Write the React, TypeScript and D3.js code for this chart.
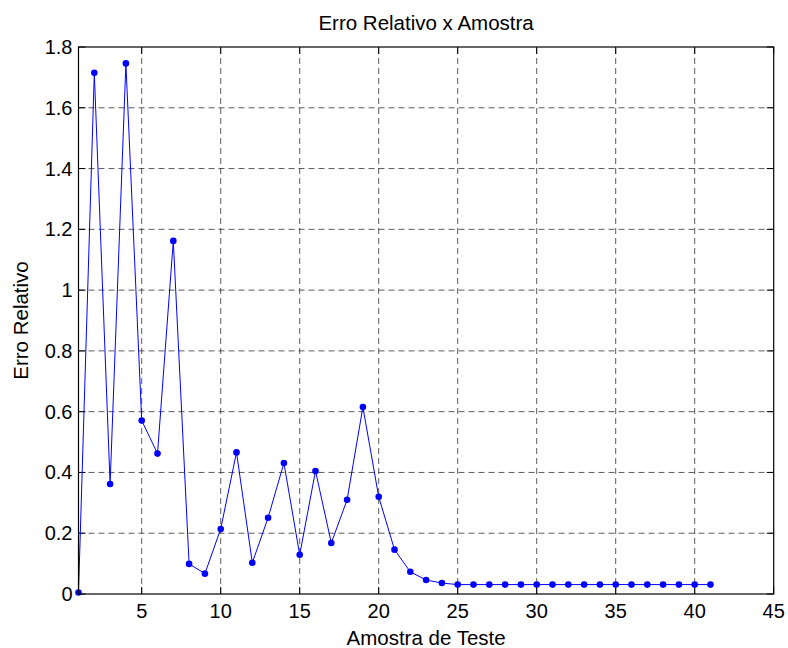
import React from "react";
import * as d3 from "d3";

// Relative error for each test sample
const samples: number[] = Array.from({ length: 41 }, (_, i) => i + 1);
const relError: number[] = [
  0.005, 1.715, 0.362, 1.746, 0.571, 0.462, 1.162, 0.099, 0.067, 0.214,
  0.466, 0.103, 0.251, 0.431, 0.129, 0.405, 0.168, 0.31, 0.615, 0.32,
  0.146, 0.073, 0.046, 0.036, 0.031, 0.031, 0.031, 0.031, 0.031, 0.031,
  0.031, 0.031, 0.031, 0.031, 0.031, 0.031, 0.031, 0.031, 0.031, 0.031,
  0.031,
];
const xTicks: number[] = [5, 10, 15, 20, 25, 30, 35, 40, 45];
const yTicks: number[] = [0, 0.2, 0.4, 0.6, 0.8, 1, 1.2, 1.4, 1.6, 1.8];

const W = 788;
const H = 648;
const m = { left: 78.5, right: 788 - 773.7, top: 47, bottom: 648 - 594 };

export default function App() {
  const x = d3.scaleLinear().domain([1, 45]).range([m.left, W - m.right]);
  const y = d3.scaleLinear().domain([0, 1.8]).range([H - m.bottom, m.top]);
  const line = d3
    .line<number>()
    .x((_, i) => x(samples[i]))
    .y((d) => y(d));
  const font = "'Liberation Sans', Arial, Helvetica, sans-serif";
  const x0 = x.range()[0];
  const x1 = x.range()[1];
  const y0 = y.range()[0];
  const y1 = y.range()[1];
  const tl = 7;
  const tickFs = 20;
  const labelFs = 20.5;

  return (
    <svg
      width={W}
      height={H}
      style={{ position: "absolute", left: 0, top: 0, background: "#fff" }}
      fontFamily={font}
    >
      <rect x={0} y={0} width={W} height={H} fill="#fff" />
      {/* grid */}
      <g stroke="#000" strokeWidth={0.8} strokeDasharray="6,4" opacity={0.8}>
        {xTicks
          .filter((t) => t < 45)
          .map((t) => (
            <line key={"gx" + t} x1={x(t)} x2={x(t)} y1={y0} y2={y1} />
          ))}
        {yTicks
          .filter((t) => t > 0 && t < 1.8)
          .map((t) => (
            <line key={"gy" + t} x1={x0} x2={x1} y1={y(t)} y2={y(t)} />
          ))}
      </g>
      {/* tick marks */}
      <g stroke="#000" strokeWidth={1}>
        {xTicks.map((t) => (
          <g key={"tx" + t}>
            <line x1={x(t)} x2={x(t)} y1={y0} y2={y0 - tl} />
            <line x1={x(t)} x2={x(t)} y1={y1} y2={y1 + tl} />
          </g>
        ))}
        {yTicks.map((t) => (
          <g key={"ty" + t}>
            <line x1={x0} x2={x0 + tl} y1={y(t)} y2={y(t)} />
            <line x1={x1} x2={x1 - tl} y1={y(t)} y2={y(t)} />
          </g>
        ))}
      </g>
      {/* data */}
      <path d={line(relError) ?? ""} fill="none" stroke="#0000ff" strokeWidth={1} />
      <g fill="#0000ff">
        {relError.map((v, i) => (
          <circle key={i} cx={x(samples[i])} cy={y(v)} r={3.3} />
        ))}
      </g>
      {/* frame */}
      <rect
        x={x0}
        y={y1}
        width={x1 - x0}
        height={y0 - y1}
        fill="none"
        stroke="#000"
        strokeWidth={1.2}
      />
      {/* tick labels */}
      <g fontSize={tickFs} fill="#000">
        {xTicks.map((t) => (
          <text key={"lx" + t} x={x(t)} y={y0 + 24} textAnchor="middle">
            {t}
          </text>
        ))}
        {yTicks.map((t) => (
          <text key={"ly" + t} x={x0 - 6} y={y(t) + 7} textAnchor="end">
            {t}
          </text>
        ))}
      </g>
      <text x={(x0 + x1) / 2} y={30} textAnchor="middle" fontSize={labelFs}>
        Erro Relativo x Amostra
      </text>
      <text x={(x0 + x1) / 2} y={645} textAnchor="middle" fontSize={labelFs}>
        Amostra de Teste
      </text>
      <text
        transform={`translate(28,${(y0 + y1) / 2}) rotate(-90)`}
        textAnchor="middle"
        fontSize={labelFs}
      >
        Erro Relativo
      </text>
    </svg>
  );
}
